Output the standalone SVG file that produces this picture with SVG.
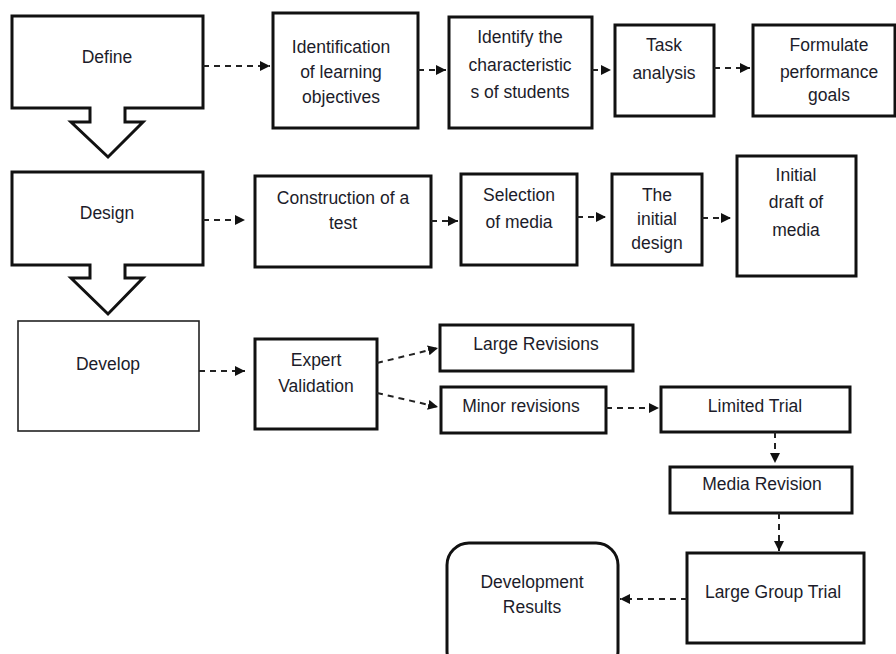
<svg xmlns="http://www.w3.org/2000/svg" width="896" height="654" viewBox="0 0 896 654">
  <style>
    .box { fill: #fff; stroke: #111; stroke-width: 3; }
    .thin { fill: #fff; stroke: #222; stroke-width: 1.6; }
    .lbl { font-family: "Liberation Sans", Arial, sans-serif; font-size: 17.5px; fill: #1c1c2a; text-anchor: middle; }
    .conn { fill: none; stroke: #222; stroke-width: 2; stroke-dasharray: 6 5; }
  </style>
  <defs>
    <marker id="tri" markerUnits="userSpaceOnUse" markerWidth="11" markerHeight="10" refX="10" refY="5" orient="auto">
      <path d="M0,0 L10,5 L0,10 Z" fill="#111"/>
    </marker>
  </defs>
  <rect width="896" height="654" fill="#fff"/>

  <!-- phase blocks (box with block arrow) -->
  <g id="define">
    <path class="box" d="M12,16 H203 V108 H125 V122 H143 L108,157 L71,122 H90 V108 H12 Z"/>
    <text class="lbl" x="107" y="63">Define</text>
  </g>
  <g id="design">
    <path class="box" d="M12,172 H203 V265 H125 V278 H143 L108,314 L71,278 H90 V265 H12 Z"/>
    <text class="lbl" x="107" y="219">Design</text>
  </g>
  <g id="develop">
    <rect class="thin" x="18" y="321" width="181" height="110"/>
    <text class="lbl" x="108" y="370">Develop</text>
  </g>

  <!-- define row -->
  <g id="objectives">
    <rect class="box" x="273" y="13" width="145" height="115"/>
    <text class="lbl" x="341" y="53">Identification</text>
    <text class="lbl" x="341" y="78">of learning</text>
    <text class="lbl" x="341" y="103">objectives</text>
  </g>
  <g id="students">
    <rect class="box" x="449" y="17" width="143" height="111"/>
    <text class="lbl" x="520" y="43">Identify the</text>
    <text class="lbl" x="520" y="71">characteristic</text>
    <text class="lbl" x="520" y="98">s of students</text>
  </g>
  <g id="task">
    <rect class="box" x="615" y="25" width="99" height="91"/>
    <text class="lbl" x="664" y="51">Task</text>
    <text class="lbl" x="664" y="79">analysis</text>
  </g>
  <g id="goals">
    <rect class="box" x="753" y="25" width="142" height="91"/>
    <text class="lbl" x="829" y="51">Formulate</text>
    <text class="lbl" x="829" y="78">performance</text>
    <text class="lbl" x="829" y="101">goals</text>
  </g>

  <!-- design row -->
  <g id="test">
    <rect class="box" x="255" y="176" width="176" height="91"/>
    <text class="lbl" x="343" y="204">Construction of a</text>
    <text class="lbl" x="343" y="229">test</text>
  </g>
  <g id="media-selection">
    <rect class="box" x="461" y="174" width="116" height="91"/>
    <text class="lbl" x="519" y="201">Selection</text>
    <text class="lbl" x="519" y="228">of media</text>
  </g>
  <g id="initial-design">
    <rect class="box" x="612" y="174" width="90" height="91"/>
    <text class="lbl" x="657" y="201">The</text>
    <text class="lbl" x="657" y="225">initial</text>
    <text class="lbl" x="657" y="249">design</text>
  </g>
  <g id="initial-draft">
    <rect class="box" x="737" y="156" width="119" height="120"/>
    <text class="lbl" x="796" y="181">Initial</text>
    <text class="lbl" x="796" y="208">draft of</text>
    <text class="lbl" x="796" y="236">media</text>
  </g>

  <!-- develop row -->
  <g id="expert">
    <rect class="box" x="255" y="339" width="122" height="90"/>
    <text class="lbl" x="316" y="366">Expert</text>
    <text class="lbl" x="316" y="392">Validation</text>
  </g>
  <g id="large-revisions">
    <rect class="box" x="440" y="325" width="193" height="46"/>
    <text class="lbl" x="536" y="350">Large Revisions</text>
  </g>
  <g id="minor-revisions">
    <rect class="box" x="441" y="387" width="165" height="46"/>
    <text class="lbl" x="521" y="412">Minor revisions</text>
  </g>
  <g id="limited-trial">
    <rect class="box" x="661" y="387" width="189" height="45"/>
    <text class="lbl" x="755" y="412">Limited Trial</text>
  </g>
  <g id="media-revision">
    <rect class="box" x="670" y="467" width="182" height="46"/>
    <text class="lbl" x="762" y="490">Media Revision</text>
  </g>
  <g id="large-group-trial">
    <rect class="box" x="687" y="553" width="177" height="90"/>
    <text class="lbl" x="773" y="598">Large Group Trial</text>
  </g>
  <g id="results">
    <rect class="box" x="447" y="543" width="171" height="130" rx="22" ry="22"/>
    <text class="lbl" x="532" y="588">Development</text>
    <text class="lbl" x="532" y="613">Results</text>
  </g>

  <!-- connectors -->
  <g id="connectors">
    <path class="conn" marker-end="url(#tri)" d="M203,66 H270"/>
    <path class="conn" marker-end="url(#tri)" d="M418,70 H446"/>
    <path class="conn" marker-end="url(#tri)" d="M592,70 H611"/>
    <path class="conn" marker-end="url(#tri)" d="M714,68 H750"/>
    <path class="conn" marker-end="url(#tri)" d="M203,220 H245"/>
    <path class="conn" marker-end="url(#tri)" d="M431,221 H458"/>
    <path class="conn" marker-end="url(#tri)" d="M577,217 H606"/>
    <path class="conn" marker-end="url(#tri)" d="M702,218 H731"/>
    <path class="conn" marker-end="url(#tri)" d="M199,371 H245"/>
    <path class="conn" marker-end="url(#tri)" d="M377,363 L438,348"/>
    <path class="conn" marker-end="url(#tri)" d="M377,393 L438,407"/>
    <path class="conn" marker-end="url(#tri)" d="M606,408 H659"/>
    <path class="conn" marker-end="url(#tri)" d="M775,432 V463"/>
    <path class="conn" marker-end="url(#tri)" d="M779,513 V551"/>
    <path class="conn" marker-end="url(#tri)" d="M687,599 H620"/>
  </g>
</svg>
